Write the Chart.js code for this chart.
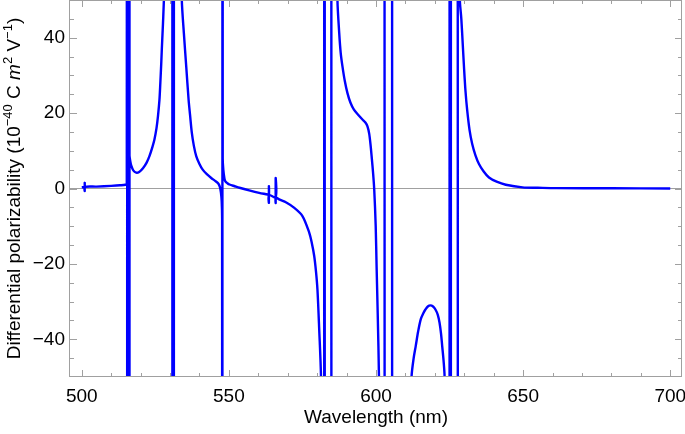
<!DOCTYPE html>
<html>
<head>
<meta charset="utf-8">
<script src="https://cdn.jsdelivr.net/npm/chart.js@4.4.1/dist/chart.umd.min.js"></script>
<style>
  html, body { margin: 0; padding: 0; background: #fff; }
</style>
</head>
<body>
<canvas id="chart" width="685" height="434"></canvas>
<script>
// values
// +-1000 (and +-60..90) = curve runs off the plot next to a resonance
const wavelength = [
  500.0, 500.9, 501.0, 501.0, 501.1, 505.0, 510.0, 513.0, 514.8, 515.3,
  515.5, 515.5, 516.15, 516.15, 516.2, 516.5, 516.85, 517.5, 518.5, 519.5,
  520.8, 522.0, 523.0, 524.0, 524.7, 525.4, 525.9, 526.4, 526.7, 527.0,
  527.2, 527.5, 527.7, 528.0, 528.3, 530.75, 530.75, 531.35, 531.35, 533.7,
  534.0, 534.7, 535.5, 536.3, 536.8, 537.4, 538.1, 538.9, 540.0, 541.1,
  542.5, 544.0, 545.2, 546.2, 546.7, 547.0, 547.3, 547.55, 547.7, 547.8,
  547.8, 547.9, 548.1, 548.5, 548.8, 549.5, 550.2, 552.0, 553.6, 556.9,
  560.3, 563.2, 563.6, 563.6, 563.6, 563.65, 565.9, 565.9, 565.9, 565.95,
  567.1, 569.5, 572.0, 575.0, 577.3, 578.2, 579.0, 579.6, 580.1, 580.7,
  581.3, 581.5, 582.4, 582.4, 582.75, 582.75, 584.7, 584.7, 586.6, 586.9,
  587.5, 588.0, 588.6, 589.4, 590.3, 591.3, 592.5, 594.0, 595.4, 596.4,
  597.1, 597.7, 598.2, 598.6, 599.0, 599.4, 599.9, 600.2, 600.6, 601.0,
  601.2, 603.1, 603.1, 605.5, 605.5, 611.8, 612.1, 612.8, 613.5, 614.3,
  615.2, 616.0, 616.8, 617.6, 618.5, 619.4, 620.2, 621.0, 621.6, 622.1,
  622.5, 623.0, 623.3, 623.5, 625.0, 625.0, 625.6, 625.6, 627.6, 627.6,
  628.3, 628.5, 629.0, 629.5, 629.9, 630.4, 631.0, 631.8, 632.7, 633.8,
  635.0, 636.6, 638.4, 641.0, 644.1, 649.8, 655.0, 661.2, 680.0, 700.0
];
const polarizability = [
  0.35, 0.4, 1.5, -0.7, 0.4, 0.5, 0.7, 0.85, 1.0, 1.3,
  1000, -1000, -1000, 1000, 9.0, 7.2, 6.0, 4.8, 4.2, 4.4,
  5.4, 6.8, 8.6, 11.0, 13.0, 16.0, 19.2, 23.5, 28.0, 33.0,
  36.8, 42.0, 45.6, 52, 60, 1000, -1000, -1000, 1000, 70,
  50, 41.2, 32.4, 23.6, 19.5, 14.8, 11.3, 8.6, 6.5, 5.0,
  3.8, 2.8, 2.1, 1.5, 0.9, 0.2, -1.1, -3.3, -8, -1000,
  1000, 8, 5.0, 2.6, 1.9, 1.4, 1.06, 0.6, 0.2, -0.5,
  -1.15, -1.6, -1.7, 0.6, -3.8, -1.75, -2.3, 2.8, -3.8, -2.4,
  -2.9, -3.7, -5.0, -7.3, -11.7, -14.5, -17.9, -22.0, -26.8, -37.4,
  -49.7, -70, -1000, 1000, 1000, -1000, -1000, 1000, 80, 50,
  41.2, 36.0, 32.4, 28.5, 25.3, 22.8, 20.9, 19.5, 18.3, 17.5,
  16.5, 14.5, 11.2, 7.8, 4.2, -0.3, -10.0, -20.6, -33.8, -49.7,
  -70, -1000, 1000, 1000, -1000, -60, -49.7, -45.0, -41.8, -38.0,
  -34.7, -33.2, -32.1, -31.3, -31.0, -31.3, -32.1, -33.5, -35.6, -38.5,
  -41.8, -46.0, -49.7, -70, -1000, 1000, 1000, -1000, -1000, 1000,
  80, 50, 45.0, 38.0, 32.3, 26.0, 20.7, 15.5, 11.8, 8.8,
  6.5, 4.5, 2.9, 1.8, 1.0, 0.3, 0.2, 0.1, 0.05, 0.0
];

const xMajorTicks = [500, 550, 600, 650, 700];
const xMinorTicks = [510, 520, 530, 540, 560, 570, 580, 590, 610, 620, 630, 640, 660, 670, 680, 690];
const yMajorTicks = [-40, -20, 0, 20, 40];
const yMinorTicks = [-45, -35, -30, -25, -15, -10, -5, 5, 10, 15, 25, 30, 35, 45];

const yTitleParts = [
  { text: 'Differential polarizability (10' },
  { text: '\u221240', sup: true },
  { text: ' C ' },
  { text: 'm', italic: true },
  { text: '2', sup: true },
  { text: ' V' },
  { text: '\u22121', sup: true },
  { text: ')' }
];

const lineBlue = '#0000ff';
const frameGray = '#a0a0a0';
const fontFamily = "'Liberation Sans', Arial, sans-serif";
const fontSize = 19;

Chart.defaults.font.family = fontFamily;
Chart.defaults.color = '#000';

const points = wavelength.map((w, i) => ({ x: w, y: polarizability[i] }));

// Mathematica style frame with inward ticks on all four sides
const framePlugin = {
  id: 'frame',
  afterDatasetsDraw(chart) {
    const { ctx, chartArea: a, scales: { x, y } } = chart;
    const major = 7, minor = 4;
    ctx.save();
    ctx.strokeStyle = frameGray;
    ctx.lineWidth = 1;
    ctx.beginPath();
    const xTick = (v, len) => {
      const px = Math.round(x.getPixelForValue(v)) + 0.5;
      ctx.moveTo(px, a.bottom); ctx.lineTo(px, a.bottom - len);
      ctx.moveTo(px, a.top); ctx.lineTo(px, a.top + len);
    };
    const yTick = (v, len) => {
      const py = Math.round(y.getPixelForValue(v)) + 0.5;
      ctx.moveTo(a.left, py); ctx.lineTo(a.left + len, py);
      ctx.moveTo(a.right, py); ctx.lineTo(a.right - len, py);
    };
    xMajorTicks.forEach(v => xTick(v, major));
    xMinorTicks.forEach(v => xTick(v, minor));
    yMajorTicks.forEach(v => yTick(v, major));
    yMinorTicks.forEach(v => yTick(v, minor));
    ctx.stroke();
    ctx.strokeRect(a.left - 0.5, a.top + 0.5, a.right - a.left, a.bottom - a.top - 1);
    ctx.restore();
  },
  afterDraw(chart) {
    // y title with superscripts and italic m
    const { ctx, chartArea: a } = chart;
    const supSize = Math.round(fontSize * 0.7);
    const fontFor = p => (p.italic ? 'italic ' : '') + (p.sup ? supSize : fontSize) + 'px ' + fontFamily;
    const widths = yTitleParts.map(p => { ctx.font = fontFor(p); return ctx.measureText(p.text).width; });
    const total = widths.reduce((s, w) => s + w, 0);
    ctx.save();
    ctx.translate(20, (a.top + a.bottom) / 2);
    ctx.rotate(-Math.PI / 2);
    ctx.fillStyle = '#000';
    ctx.textBaseline = 'alphabetic';
    let pos = -total / 2;
    yTitleParts.forEach((p, i) => {
      ctx.font = fontFor(p);
      ctx.fillText(p.text, pos, p.sup ? -fontSize * 0.4 : 0);
      pos += widths[i];
    });
    ctx.restore();
  }
};

const myChart = new Chart(document.getElementById('chart'), {
  type: 'line',
  data: {
    datasets: [{
      data: points,
      borderColor: lineBlue,
      borderWidth: 2.4,
      pointRadius: 0,
      tension: 0.3, // smooth curve, also keeps chart.js off its per-pixel fast path
      fill: false,
      clip: 0
    }]
  },
  options: {
    responsive: false,
    animation: false,
    devicePixelRatio: 1,
    layout: { padding: { top: 0, right: 3, bottom: 0, left: 0 } },
    plugins: {
      legend: { display: false },
      tooltip: { enabled: false }
    },
    scales: {
      x: {
        type: 'linear',
        min: 496,
        max: 704,
        afterBuildTicks: s => { s.ticks = xMajorTicks.map(v => ({ value: v })); },
        afterFit: s => { s.height = 57; s.paddingLeft = 0; s.paddingRight = 0; },
        grid: { display: false },
        border: { display: false },
        ticks: { font: { size: fontSize }, padding: 0, maxRotation: 0, autoSkip: false },
        title: {
          display: true,
          text: 'Wavelength (nm)',
          font: { size: fontSize },
          padding: { top: 0, bottom: 5 }
        }
      },
      y: {
        min: -50,
        max: 50,
        afterBuildTicks: s => { s.ticks = yMajorTicks.map(v => ({ value: v })); },
        afterFit: s => { s.width = 70; s.paddingTop = 0; s.paddingBottom = 0; },
        grid: {
          color: c => (c.tick && c.tick.value === 0 ? frameGray : 'rgba(0,0,0,0)'),
          drawTicks: false
        },
        border: { display: false },
        ticks: {
          font: { size: fontSize },
          padding: 5,
          autoSkip: false,
          callback: v => (v < 0 ? '\u2212' + Math.abs(v) : String(v))
        }
      }
    }
  },
  plugins: [framePlugin]
});
</script>
</body>
</html>
